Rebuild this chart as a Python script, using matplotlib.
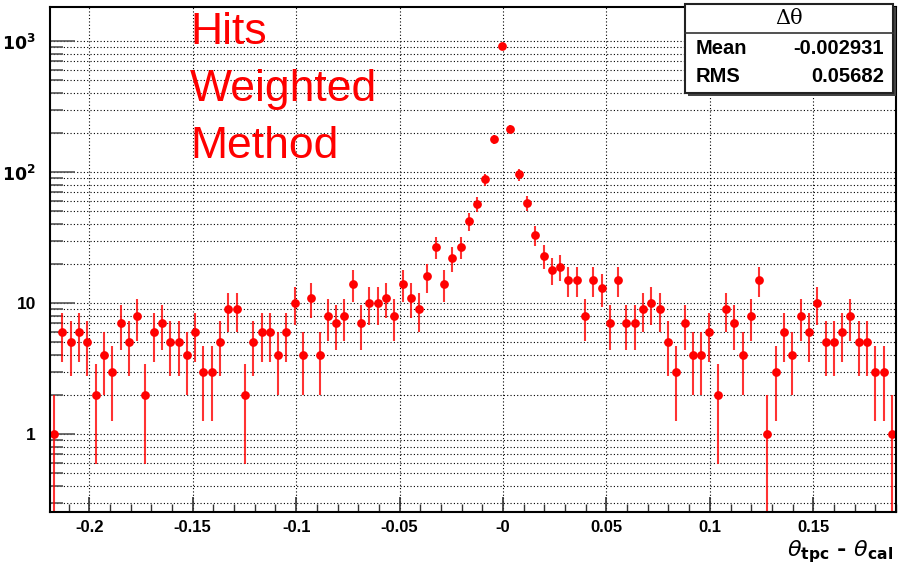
import numpy as np
import matplotlib
matplotlib.use("Agg")
import matplotlib.pyplot as plt
from matplotlib.patches import Rectangle
from matplotlib.ticker import FixedLocator, NullFormatter, LogLocator

# histogram: 102 bins between -0.219 and 0.19
x_lo, x_hi, n_bins = -0.219, 0.19, 102
counts = [1, 6, 5, 6, 5, 2, 4, 3, 7, 5,
          8, 2, 6, 7, 5, 5, 4, 6, 3, 3,
          5, 9, 9, 2, 5, 6, 6, 4, 6, 10,
          4, 11, 4, 8, 7, 8, 14, 7, 10, 10,
          11, 8, 14, 11, 9, 16, 27, 14, 22, 27,
          42, 57, 88, 178, 910, 215, 96, 58, 33, 23,
          18, 19, 15, 15, 8, 15, 13, 7, 15, 7,
          7, 9, 10, 9, 5, 3, 7, 4, 4, 6,
          2, 9, 7, 4, 8, 15, 1, 3, 6, 4,
          8, 6, 10, 5, 5, 6, 8, 5, 5, 3,
          3, 1]
x_ticks = [-0.2, -0.15, -0.1, -0.05, 0.0, 0.05, 0.1, 0.15]
x_tick_labels = ["-0.2", "-0.15", "-0.1", "-0.05", "-0", "0.05", "0.1", "0.15"]
y_ticks = [1, 10, 100, 1000]
y_tick_labels = ["1", "10", r"$\mathbf{10^{2}}$", r"$\mathbf{10^{3}}$"]
stats_title = "Δθ"
stats = [("Mean", "-0.002931"), ("RMS", "0.05682")]

W, H = 898, 569
fig = plt.figure(figsize=(W / 100, H / 100), dpi=100)
ax = fig.add_axes([50 / W, (H - 512) / H, 846 / W, 505 / H])

edges = np.linspace(x_lo, x_hi, n_bins + 1)
centers = 0.5 * (edges[:-1] + edges[1:])
y = np.array(counts, dtype=float)
err = np.sqrt(y)

ax.errorbar(centers, y, yerr=err, fmt="none", ecolor="#ff0000", elinewidth=1.5, alpha=0.8)
ax.plot(centers, y, "o", color="#ff0000", markersize=6.3, markeredgewidth=0)

ax.set_yscale("log")
ax.set_xlim(x_lo, x_hi)
ax.set_ylim(0.254, 1820)

ax.set_xticks(x_ticks)
ax.set_xticklabels(x_tick_labels, fontsize=12, fontweight="bold", family="Liberation Sans")
ax.xaxis.set_minor_locator(FixedLocator(np.arange(-0.21, 0.191, 0.01)))
ax.set_yticks(y_ticks)
ax.set_yticklabels(y_tick_labels, fontsize=12.5, fontweight="bold", family="Liberation Sans")
ax.yaxis.set_minor_locator(LogLocator(base=10, subs=np.arange(2, 10)))
ax.yaxis.set_minor_formatter(NullFormatter())

ax.tick_params(axis="y", which="major", direction="in", length=18, width=1.2, color="#555555", pad=10)
ax.tick_params(axis="y", which="minor", direction="in", length=9, width=1.2, color="#555555")
ax.tick_params(axis="x", which="major", direction="in", length=11, width=1.2, color="#333333", pad=6)
ax.tick_params(axis="x", which="minor", direction="in", length=6, width=1, color="#333333")

ax.grid(True, which="major", axis="x", linestyle=(0, (1, 2)), color="black", linewidth=0.8)
ax.grid(True, which="both", axis="y", linestyle=(0, (1, 2)), color="black", linewidth=0.8)
ax.set_axisbelow(True)
for s in ax.spines.values():
    s.set_linewidth(1.5)

# label text
fig.text(190 / W, 1 - 12 / H, "Hits\nWeighted\nMethod", color="#ff0000",
         fontsize=32, family=["Liberation Sans Narrow", "Liberation Sans"],
         va="top", ha="left", linespacing=1.5)

# x axis title
fig.text(893 / W, 1 - 556 / H, r"$\theta_{\mathbf{tpc}}$ - $\theta_{\mathbf{cal}}$",
         fontsize=16, ha="right", va="baseline", fontweight="bold")

# stats box
bx0, by0, bx1, by1 = 685, 4, 893, 93
fig.patches.append(Rectangle((bx0 / W + 3 / W, 1 - (by1 + 3) / H), (bx1 - bx0) / W, (by1 - by0) / H,
                             transform=fig.transFigure, facecolor="#444444", edgecolor="none", zorder=5))
fig.patches.append(Rectangle((bx0 / W, 1 - by1 / H), (bx1 - bx0) / W, (by1 - by0) / H,
                             transform=fig.transFigure, facecolor="white", edgecolor="#222222",
                             linewidth=1.5, zorder=6))
fig.lines.append(plt.Line2D([bx0 / W, bx1 / W], [1 - 33 / H, 1 - 33 / H], transform=fig.transFigure,
                            color="#333333", linewidth=1.2, zorder=7))
fig.text((bx0 + bx1) / 2 / W, 1 - 19 / H, stats_title, fontsize=15, ha="center", va="center",
         family="DejaVu Serif", zorder=8)
for i, (k, v) in enumerate(stats):
    yy = 1 - (49 + i * 27) / H
    fig.text(696 / W, yy, k, fontsize=14.5, fontweight="bold", ha="left", va="center",
             family="Liberation Sans", zorder=8)
    fig.text(884 / W, yy, v, fontsize=14.5, fontweight="bold", ha="right", va="center",
             family="Liberation Sans", zorder=8)

fig.savefig("out.png", dpi=100)
